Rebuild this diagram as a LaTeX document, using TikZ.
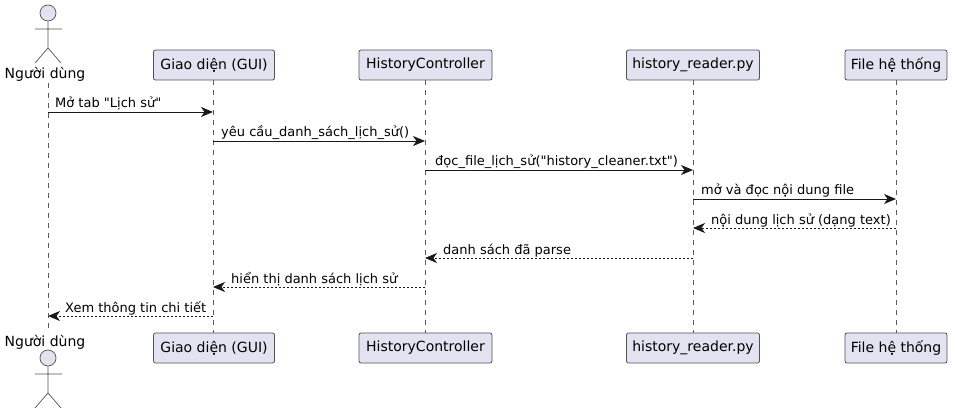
\documentclass[tikz,border=0pt]{standalone}
\usepackage{fontspec}
\setmainfont[Ligatures=TeXOff]{DejaVu Sans}
\usetikzlibrary{arrows.meta}
\definecolor{pfill}{HTML}{E2E2F0}
\definecolor{pline}{HTML}{181818}
\tikzset{
  x=1pt,y=-1pt,
  part/.style={draw=pline!75!white,fill=pfill,rounded corners=2pt,line width=.8pt,minimum height=30pt,inner xsep=0pt,inner ysep=0pt,font=\fontsize{14}{16}\selectfont,text=black},
  lifeline/.style={draw=pline!70!white,line width=.7pt,dash pattern=on 5pt off 5pt},
  sync/.style={draw=black!90,line width=.9pt,-{Stealth[length=12pt,width=10pt,inset=3.5pt]}},
  reply/.style={sync,dash pattern=on 2pt off 2pt},
  msg/.style={font=\fontsize{13}{15}\selectfont,anchor=base west,inner sep=0pt,text=black},
  stick/.style={draw=pline!75!white,line width=.7pt},
  head/.style={draw=pline!75!white,fill=pfill,line width=.7pt,circle,minimum size=16pt,inner sep=0pt},
  alabel/.style={font=\fontsize{14}{16}\selectfont,inner sep=0pt,text=black}
}
\begin{document}
\begin{tikzpicture}
\useasboundingbox (0,0) rectangle (955,414);
% top / bottom participants
\node[part,minimum width=121pt] (g1) at (214,65) {Giao diện (GUI)};
\node[part,minimum width=133pt] (h1) at (425.5,65) {HistoryController};
\node[part,minimum width=133pt] (r1) at (693,65) {history\_reader.py};
\node[part,minimum width=102pt] (f1) at (896,65) {File hệ thống};
\node[part,minimum width=121pt] (g2) at (214,348) {Giao diện (GUI)};
\node[part,minimum width=133pt] (h2) at (425.5,348) {HistoryController};
\node[part,minimum width=133pt] (r2) at (693,348) {history\_reader.py};
\node[part,minimum width=102pt] (f2) at (896,348) {File hệ thống};
% actors
\node[alabel] (al1) at (45,74) {Người dùng};
\node[alabel] (al2) at (45,342) {Người dùng};
\node[head] (ah1) at (48,13) {};
\node[head] (ah2) at (48,358) {};
\coordinate (l1t) at (48,83);
\coordinate (l1b) at (48,333);
\draw[stick] (ah1.south) -- (48,48) -- (35,63) (48,48) -- (61,63) (35,29) -- (62,29);
\draw[stick] (ah2.south) -- (48,393) -- (35,408) (48,393) -- (61,408) (35,374) -- (62,374);
% lifelines
\draw[lifeline] (l1t) -- (l1b);
\draw[lifeline] (g1.south -| 213,0) -- (g2.north -| 213,0);
\draw[lifeline] (h1.south -| 425,0) -- (h2.north -| 425,0);
\draw[lifeline] (r1.south) -- (r2.north);
\draw[lifeline] (f1.south) -- (f2.north);
% message end points
\foreach \n/\x in {a/48,b/213,c/425,d/693,e/896}{
  \foreach \m/\y in {1/112,2/141,3/170,4/199,5/228,6/258,7/287,8/316}{
    \coordinate (\n\m) at (\x,\y);
  }
}
\draw[sync] (a1) -- (b1);
\draw[sync] (b2) -- (c2);
\draw[sync] (c3) -- (d3);
\draw[sync] (d4) -- (e4);
\draw[reply] (e5) -- (d5);
\draw[reply] (d6) -- (c6);
\draw[reply] (c7) -- (b7);
\draw[reply] (b8) -- (a8);
\node[msg] (m1) at (55,108) {Mở tab "Lịch sử"};
\node[msg] (m2) at (221,137) {yêu cầu\_danh\_sách\_lịch\_sử()};
\node[msg] (m3) at (435,166) {đọc\_file\_lịch\_sử("history\_cleaner.txt")};
\node[msg] (m4) at (701,195) {mở và đọc nội dung file};
\node[msg] (m5) at (711,224) {nội dung lịch sử (dạng text)};
\node[msg] (m6) at (443,254) {danh sách đã parse};
\node[msg] (m7) at (231,283) {hiển thị danh sách lịch sử};
\node[msg] (m8) at (65,312) {Xem thông tin chi tiết};
\end{tikzpicture}
\end{document}
